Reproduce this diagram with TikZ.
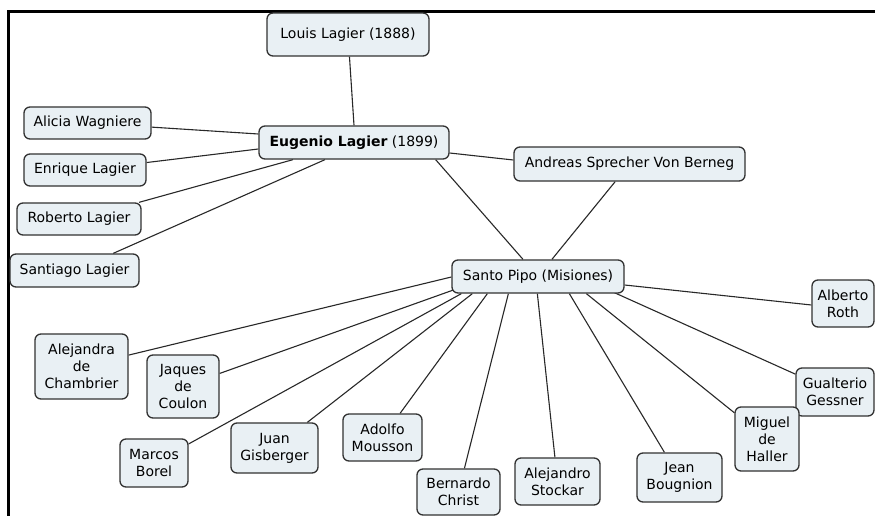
\documentclass[tikz,border=0pt]{standalone}
\usepackage{fontspec}
\setmainfont{DejaVu Sans}
\usetikzlibrary{backgrounds}
\definecolor{boxfill}{RGB}{233,240,244}
\definecolor{boxline}{RGB}{50,50,50}
\definecolor{linkc}{RGB}{40,40,40}
\begin{document}
\begin{tikzpicture}[x=1pt,y=-1pt,
  box/.style={draw=boxline, fill=boxfill, rounded corners=6pt, line width=1.3pt,
    inner sep=0pt, align=center, font=\fontsize{14}{17}\selectfont},
  link/.style={draw=linkc, line width=1.1pt}]
\useasboundingbox (0,0) rectangle (875,516);

\node[box, minimum width=162, minimum height=43] (louis) at (348,34.5) {Louis Lagier (1888)};
\node[box, minimum width=190, minimum height=33] (eug) at (354,142.5) {\textbf{Eugenio Lagier} (1899)};
\node[box, minimum width=127, minimum height=32] (alicia) at (87.5,123) {Alicia Wagniere};
\node[box, minimum width=122, minimum height=32] (enrique) at (85,170) {Enrique Lagier};
\node[box, minimum width=124, minimum height=32] (roberto) at (79,219) {Roberto Lagier};
\node[box, minimum width=129, minimum height=33] (santiago) at (74.5,270.5) {Santiago Lagier};
\node[box, minimum width=231, minimum height=34] (andreas) at (629.5,164) {Andreas Sprecher Von Berneg};
\node[box, minimum width=172, minimum height=33] (sp) at (538,276.5) {Santo Pipo (Misiones)};
\node[box, minimum width=62, minimum height=47] (alberto) at (843,303.5) {Alberto\\Roth};
\node[box, minimum width=78, minimum height=48] (gualterio) at (835,392) {Gualterio\\Gessner};
\node[box, minimum width=64, minimum height=64] (miguel) at (767,439) {Miguel\\de\\Haller};
\node[box, minimum width=85, minimum height=49] (jean) at (679.5,477.5) {Jean\\Bougnion};
\node[box, minimum width=85, minimum height=47] (stockar) at (557.5,481.5) {Alejandro\\Stockar};
\node[box, minimum width=83, minimum height=46] (bernardo) at (458.5,492) {Bernardo\\Christ};
\node[box, minimum width=79, minimum height=47] (adolfo) at (382.5,437.5) {Adolfo\\Mousson};
\node[box, minimum width=87, minimum height=50] (juan) at (274.5,448) {Juan\\Gisberger};
\node[box, minimum width=68, minimum height=48] (marcos) at (154,463) {Marcos\\Borel};
\node[box, minimum width=72, minimum height=63] (jaques) at (183,386.5) {Jaques\\de\\Coulon};
\node[box, minimum width=93, minimum height=65] (alejandra) at (81.5,366.5) {Alejandra\\de\\Chambrier};

\begin{scope}[on background layer]
\fill[white] (0,0) rectangle (875,516);
\draw[line width=3pt] (8.5,516) -- (8.5,11.5) -- (875,11.5);
\draw[link] (louis) -- (eug.north);
\draw[link] (alicia) -- ([yshift=8.5pt]eug.west);
\draw[link] (enrique) -- ([yshift=-6.5pt]eug.west);
\draw[link] (roberto) -- ([xshift=-61pt]eug.south);
\draw[link] (santiago) -- ([xshift=-29pt]eug.south);
\draw[link] (eug) -- ([yshift=4pt]andreas.west);
\draw[link] ([xshift=-14pt]eug.south east) -- (sp);
\draw[link] (andreas) -- (sp);
\draw[link] (alejandra) -- ([yshift=-0.5pt]sp.west);
\draw[link] (jaques) -- ([xshift=3pt,yshift=4pt]sp.south west);
\draw[link] (marcos) -- ([xshift=10pt]sp.south west);
\draw[link] (juan) -- ([xshift=21pt]sp.south west);
\draw[link] (adolfo) -- ([xshift=36pt]sp.south west);
\draw[link] (bernardo) -- ([xshift=57pt]sp.south west);
\draw[link] (stockar) -- ([xshift=86pt]sp.south west);
\draw[link] (jean) -- ([xshift=118pt]sp.south west);
\draw[link] (miguel) -- ([xshift=135pt]sp.south west);
\draw[link] (gualterio) -- ([xshift=163pt,yshift=1pt]sp.south west);
\draw[link] ([yshift=-8.5pt]sp.east) -- ([yshift=-1.5pt]alberto.west);
\end{scope}
\end{tikzpicture}
\end{document}
